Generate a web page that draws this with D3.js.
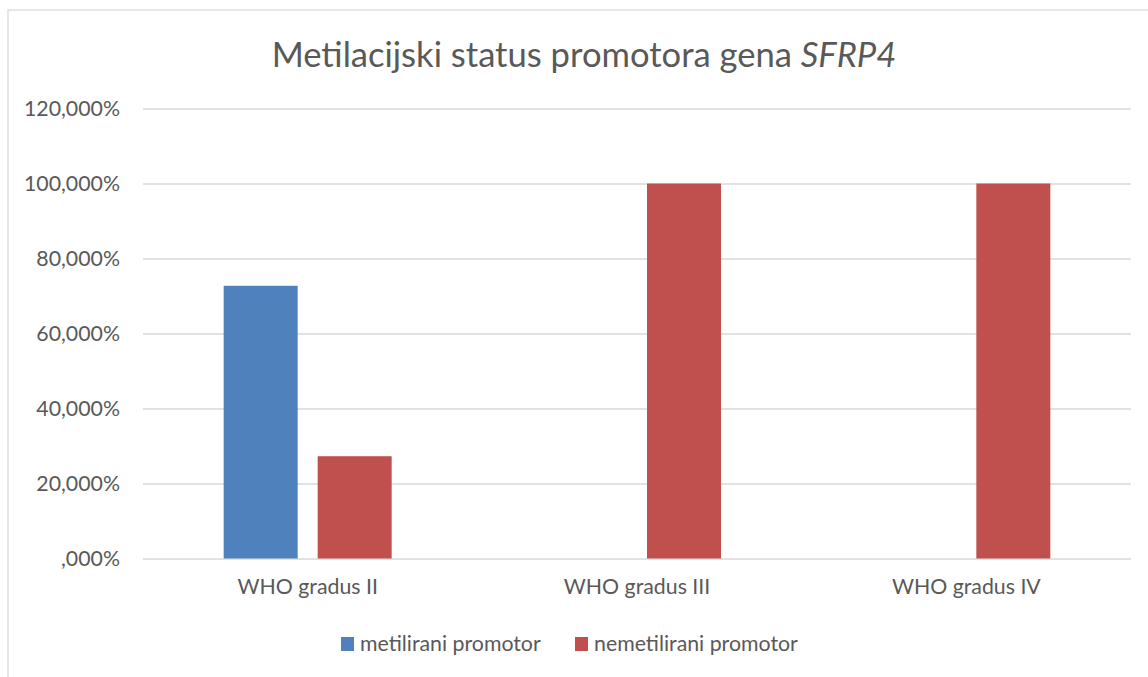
<!DOCTYPE html>
<html>
<head>
<meta charset="utf-8">
<script src="https://cdn.jsdelivr.net/npm/d3@7"></script>
<style>
  body { margin: 0; background: #fff; }
  svg text { font-family: Lato, "Open Sans", sans-serif; fill: #595959; }
</style>
</head>
<body>
<svg id="chart"></svg>
<script>
// categories and series (values in %)
const categories = ["WHO gradus II", "WHO gradus III", "WHO gradus IV"];
const seriesNames = ["metilirani promotor", "nemetilirani promotor"];
const metilirani = [72.727, 0, 0];
const nemetilirani = [27.273, 100, 100];
const yTicks = [0, 20, 40, 60, 80, 100, 120];
const colors = ["#4f81bd", "#c0504d"];

const W = 1148, H = 677;
const margin = { top: 108.5, left: 143, right: 17, bottom: 118.5 };

const svg = d3.select("#chart")
    .attr("width", W)
    .attr("height", H);

// outer chart border (runs past the right/bottom edge)
svg.append("rect")
    .attr("x", 8).attr("y", 10)
    .attr("width", W + 20).attr("height", H + 20)
    .attr("fill", "none")
    .attr("stroke", "#d9d9d9")
    .attr("stroke-width", 1.3);

const x0 = d3.scaleBand()
    .domain(categories)
    .range([margin.left, W - margin.right]);

// bar group: 2 bars of 74px with 20px gap
const x1 = d3.scaleBand()
    .domain(seriesNames)
    .range([-84, 84])
    .paddingInner(0.2128);

const y = d3.scaleLinear()
    .domain([0, 120])
    .range([H - margin.bottom, margin.top]);

const fmt = v => (v === 0 ? "" : d3.format("d")(v)) + ",000%";

// gridlines + y labels
const yAxis = d3.axisLeft(y)
    .tickValues(yTicks)
    .tickSize(-(W - margin.left - margin.right))
    .tickPadding(23)
    .tickFormat(fmt);

svg.append("g")
    .attr("transform", `translate(${margin.left},0)`)
    .call(yAxis)
    .call(g => g.select(".domain").remove())
    .call(g => g.selectAll("line").attr("stroke", "#d9d9d9").attr("stroke-width", 1.3))
    .call(g => g.selectAll("text")
        .attr("font-size", "21.3px")
        .attr("fill", "#595959")
        .attr("font-family", "Lato, sans-serif"));

// x labels
const xAxis = d3.axisBottom(x0).tickSize(0).tickPadding(20);
svg.append("g")
    .attr("transform", `translate(0,${y(0)})`)
    .call(xAxis)
    .call(g => g.select(".domain").remove())
    .call(g => g.selectAll("text")
        .attr("font-size", "21.3px")
        .attr("fill", "#595959")
        .attr("font-family", "Lato, sans-serif"));

// bars
const dataset = categories.map((c, i) => ({
    cat: c,
    vals: [
        { s: seriesNames[0], v: metilirani[i] },
        { s: seriesNames[1], v: nemetilirani[i] }
    ]
}));

svg.append("g").selectAll("g")
    .data(dataset)
    .enter()
    .append("g")
    .attr("transform", d => `translate(${x0(d.cat) + x0.bandwidth() / 2},0)`)
    .selectAll("rect")
    .data(d => d.vals.filter(e => e.v > 0))
    .enter()
    .append("rect")
    .attr("x", d => x1(d.s))
    .attr("width", x1.bandwidth())
    .attr("y", d => y(d.v))
    .attr("height", d => y(0) - y(d.v))
    .attr("fill", d => colors[seriesNames.indexOf(d.s)]);

// title
const title = svg.append("text")
    .attr("x", 584)
    .attr("y", 67)
    .attr("text-anchor", "middle")
    .attr("font-size", "34.6px");
title.append("tspan").text("Metilacijski status promotora gena ");
title.append("tspan").attr("font-style", "italic").text("SFRP4");

// legend
const legendX = [341, 575];
const legend = svg.append("g").selectAll("g")
    .data(seriesNames)
    .enter()
    .append("g")
    .attr("transform", (d, i) => `translate(${legendX[i]},637)`);
legend.append("rect")
    .attr("width", 13).attr("height", 14)
    .attr("fill", (d, i) => colors[i]);
legend.append("text")
    .attr("x", 19).attr("y", 14)
    .attr("font-size", "21.3px")
    .text(d => d);
</script>
</body>
</html>
